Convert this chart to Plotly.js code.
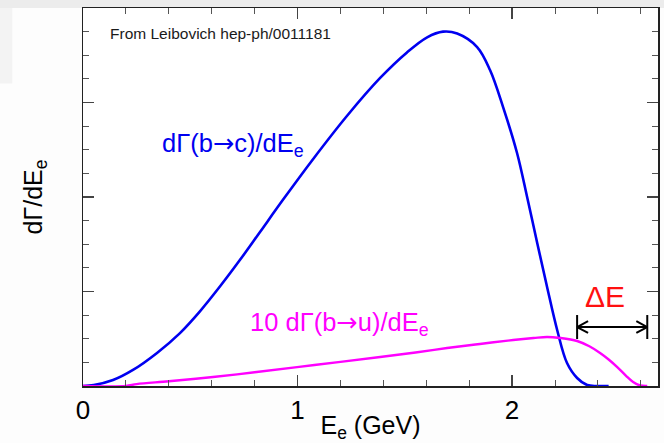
<!DOCTYPE html>
<html>
<head>
<meta charset="utf-8">
<script src="https://cdn.plot.ly/plotly-3.0.1.min.js"></script>
<style>html,body{margin:0;padding:0;background:#fdfdfd;}#chart{width:664px;height:443px;}</style>
</head>
<body>
<div id="chart"></div>
<script>
// b -> c electron spectrum (arbitrary units)
const bcEnergy = [0, 0.05, 0.14, 0.233, 0.345, 0.452, 0.545, 0.639, 0.732, 0.825, 0.932, 1.072, 1.231, 1.385, 1.51, 1.604, 1.678, 1.744, 1.837, 1.897, 1.958, 2.023, 2.07, 2.117, 2.163, 2.21, 2.256, 2.303, 2.35, 2.396, 2.45];
const bcRate   = [0, 0.01, 0.063, 0.17, 0.35, 0.56, 0.79, 1.055, 1.335, 1.63, 1.97, 2.40, 2.86, 3.26, 3.53, 3.69, 3.75, 3.73, 3.587, 3.344, 2.952, 2.466, 2.0, 1.513, 1.048, 0.593, 0.243, 0.085, 0.01, 0, 0];
// 10 x b -> u electron spectrum
const buEnergy = [0, 0.2, 0.25, 0.4, 0.606, 0.8, 0.998, 1.2, 1.385, 1.55, 1.697, 1.85, 2.005, 2.1, 2.163, 2.224, 2.303, 2.36, 2.41, 2.45, 2.49, 2.53, 2.564, 2.597, 2.63];
const buRate   = [0, 0, 0.02, 0.05, 0.095, 0.145, 0.2, 0.255, 0.307, 0.355, 0.402, 0.445, 0.487, 0.508, 0.519, 0.508, 0.476, 0.42, 0.349, 0.28, 0.2, 0.11, 0.042, 0.005, 0];
const xTickVals = [0, 1, 2];
const xTickText = ['0', '1', '2'];
// Delta E window (GeV) and its vertical placement
const deltaE = [2.303, 2.63];
const deltaEy = 0.624;

const FONT = 'Liberation Sans, Arial, Helvetica, sans-serif';
const ARROW = '<span style="font-family:DejaVu Sans">→</span>';

const traces = [
  {x: bcEnergy, y: bcRate, mode: 'lines', line: {color: '#0000f0', width: 2.6, shape: 'spline', smoothing: 1}, hoverinfo: 'skip'},
  {x: buEnergy, y: buRate, mode: 'lines', line: {color: '#ff00ff', width: 2.4, shape: 'spline', smoothing: 1}, hoverinfo: 'skip'}
];

const ax = 0.051, ay = 0.063, barH = 0.127;
const lineStyle = {color: '#000', width: 2};
const shapes = [
  {type: 'rect', xref: 'paper', yref: 'paper', x0: -0.2, x1: 1.2, y0: 1.0, y1: 1.03, fillcolor: '#ececec', line: {width: 0}, layer: 'below'},
  {type: 'rect', xref: 'paper', yref: 'paper', x0: -0.2, x1: -0.123, y0: 0.8, y1: 1.0, fillcolor: '#f3f3f3', line: {width: 0}, layer: 'below'},
  {type: 'line', x0: deltaE[0], x1: deltaE[1], y0: deltaEy, y1: deltaEy, line: lineStyle},
  {type: 'line', x0: deltaE[0], x1: deltaE[0], y0: deltaEy - barH, y1: deltaEy + barH, line: lineStyle},
  {type: 'line', x0: deltaE[1], x1: deltaE[1], y0: deltaEy - barH, y1: deltaEy + barH, line: lineStyle},
  {type: 'line', x0: deltaE[0], x1: deltaE[0] + ax, y0: deltaEy, y1: deltaEy + ay, line: lineStyle},
  {type: 'line', x0: deltaE[0], x1: deltaE[0] + ax, y0: deltaEy, y1: deltaEy - ay, line: lineStyle},
  {type: 'line', x0: deltaE[1], x1: deltaE[1] - ax, y0: deltaEy, y1: deltaEy + ay, line: lineStyle},
  {type: 'line', x0: deltaE[1], x1: deltaE[1] - ax, y0: deltaEy, y1: deltaEy - ay, line: lineStyle}
];

const annotations = [
  {x: 0.117, y: 3.735, xanchor: 'left', yanchor: 'middle', text: 'From Leibovich hep-ph/0011181', showarrow: false, font: {family: FONT, size: 15.5, color: '#1a1a1a'}},
  {x: 0.36, y: 2.56, xanchor: 'left', yanchor: 'middle', text: 'dΓ(b' + ARROW + 'c)/dE<sub>e</sub>', showarrow: false, font: {family: FONT, size: 25.5, color: '#0000f0'}},
  {x: 0.77, y: 0.66, xanchor: 'left', yanchor: 'middle', text: '10 dΓ(b' + ARROW + 'u)/dE<sub>e</sub>', showarrow: false, font: {family: FONT, size: 25.5, color: '#ff00ff'}},
  {x: 2.434, y: 0.942, xanchor: 'center', yanchor: 'middle', text: 'ΔE', showarrow: false, font: {family: FONT, size: 30, color: '#ff1010'}}
];

const axisCommon = {
  showline: true, linecolor: '#222', linewidth: 1.5, mirror: 'ticks',
  ticks: 'inside', ticklen: 11, tickwidth: 1.2, tickcolor: '#444',
  showgrid: false, zeroline: false
};

const layout = {
  width: 664, height: 443,
  margin: {l: 83, r: 6, t: 8, b: 57},
  paper_bgcolor: '#fdfdfd', plot_bgcolor: '#ffffff',
  showlegend: false,
  font: {family: FONT, color: '#000'},
  xaxis: Object.assign({}, axisCommon, {
    range: [0, 2.68], tickvals: xTickVals, ticktext: xTickText,
    tickfont: {family: FONT, size: 26, color: '#000'},
    minor: {dtick: 0.2, tick0: 0, ticks: 'inside', ticklen: 6, tickwidth: 1, tickcolor: '#555'},
    title: {text: 'E<sub>e</sub> (GeV)', font: {family: FONT, size: 25, color: '#000'}, standoff: 2}
  }),
  yaxis: Object.assign({}, axisCommon, {
    range: [0, 4], dtick: 1, tick0: 0, showticklabels: false,
    minor: {dtick: 0.25, tick0: 0, ticks: 'inside', ticklen: 6, tickwidth: 1, tickcolor: '#555'},
    title: {text: 'dΓ/dE<sub>e</sub>', font: {family: FONT, size: 25, color: '#000'}, standoff: 32}
  }),
  shapes: shapes,
  annotations: annotations
};

Plotly.newPlot('chart', traces, layout, {staticPlot: true});
</script>
</body>
</html>
